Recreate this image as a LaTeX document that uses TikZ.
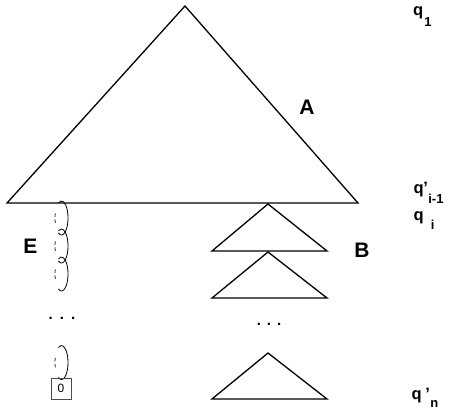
\documentclass[tikz,border=0pt]{standalone}
\usepackage{fontspec}
\setmainfont{Liberation Sans}
\usetikzlibrary{calc}
\newcommand\qsubfont{\fontsize{13}{13}\selectfont}
\begin{document}
\begin{tikzpicture}[x=1pt,y=1pt,
  tri/.style={line width=1.3pt, line join=miter},
  loopsolid/.style={line width=0.8pt},
  loopdash/.style={line width=0.7pt, dash pattern=on 0pt off 11pt on 3.5pt off 2.5pt on 3.5pt off 40pt},
  big/.style={font=\fontsize{21}{21}\selectfont\bfseries, inner sep=0pt},
  lbl/.style={font=\fontsize{16.5}{16.5}\selectfont\bfseries, inner sep=0pt, anchor=base west},
  dotsstyle/.style={font=\fontsize{15}{15}\selectfont\bfseries, inner sep=0pt},
  zerobox/.style={draw=black!70, line width=0.7pt, minimum width=20pt, minimum height=21pt, inner sep=0pt, font=\fontsize{12}{12}\selectfont}]
\useasboundingbox (0,0) rectangle (452,-409);

% big triangle A
\coordinate (T1) at (185,-6);
\coordinate (L1) at (7,-203);
\coordinate (R1) at (358,-203);
\draw[tri] (T1) -- (L1) -- (R1) -- cycle;

% small triangles B
\coordinate (T2) at (268,-204);
\coordinate (L2) at (212,-251);
\coordinate (R2) at (327,-251);
\draw[tri] (T2) -- (L2) -- (R2) -- cycle;
\coordinate (T3) at (268,-252);
\coordinate (L3) at (212,-298);
\coordinate (R3) at (327,-298);
\draw[tri] (T3) -- (L3) -- (R3) -- cycle;
\coordinate (T4) at (268,-353);
\coordinate (L4) at (212,-399);
\coordinate (R4) at (327,-399);
\draw[tri] (T4) -- (L4) -- (R4) -- cycle;

% loops E
\foreach \cy in {218,246,274,362.5}{
  \draw[loopsolid] (61.5,-\cy) ++(118:6.5 and 17) arc[start angle=118, end angle=-118, x radius=6.5, y radius=17];
  \draw[loopdash] (61.5,-\cy) ++(118:6.5 and 17) arc[start angle=118, end angle=242, x radius=6.5, y radius=17];
}

\node[zerobox] (zero) at (61,-388.5) {0};

% dots
\node[dotsstyle] (dotsL) at (62,-318) {.\hspace{7pt}.\hspace{7pt}.};
\node[dotsstyle] (dotsR) at (269,-324) {.\hspace{6pt}.\hspace{6pt}.};

% big labels
\node[big] (A) at (307,-107) {A};
\node[big] (B) at (362,-250) {B};
\node[big] (E) at (30.5,-246.5) {E};

% q labels
\node[lbl] (q1) at (413,-16) {q\hspace{1pt}\raisebox{-11pt}{\qsubfont 1}};
\node[lbl] (qim1) at (413.5,-193) {q\hspace{-0.5pt}’\hspace{0.5pt}\raisebox{-10pt}{\qsubfont i-1}};
\node[lbl] (qi) at (413.5,-220) {q\hspace{7pt}\raisebox{-9pt}{\qsubfont i}};
\node[lbl] (qn) at (411.5,-399) {q\hspace{3.5pt}’\hspace{0.5pt}\raisebox{-8pt}{\qsubfont n}};
\end{tikzpicture}
\end{document}
